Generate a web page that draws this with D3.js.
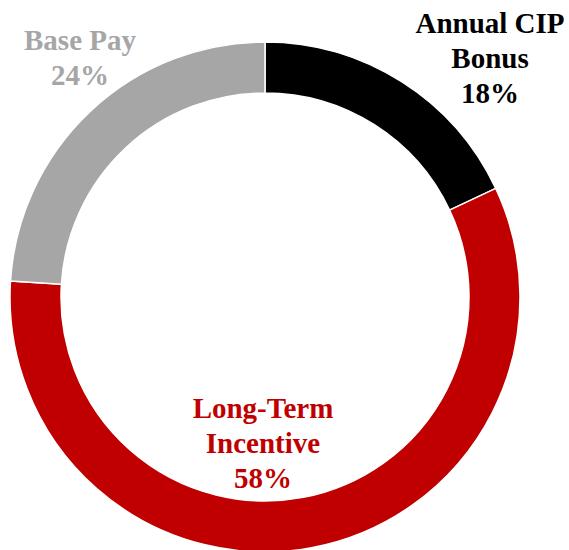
<!DOCTYPE html>
<html>
<head>
<meta charset="utf-8">
<script src="https://cdn.jsdelivr.net/npm/d3@7"></script>
<style>
  html, body { margin: 0; padding: 0; background: #fff; }
  svg { display: block; }
  text { font-family: "Liberation Serif", "Times New Roman", serif; font-weight: bold; }
</style>
</head>
<body>
<svg id="chart"></svg>
<script>
// data
const categories = ["Annual CIP Bonus", "Long-Term Incentive", "Base Pay"];
const values = [18, 58, 24];
const labelLines = [["Annual CIP", "Bonus"], ["Long-Term", "Incentive"], ["Base Pay"]];
const colors = ["#000000", "#c00000", "#a6a6a6"];

const width = 569, height = 550;
const cx = 265, cy = 297;
const outerR = 255, innerR = 204;
const fontSize = 29, lineH = 35;

// label anchors (x, first baseline), picked to sit where the original ones are
const labelAnchor = [[490, 33], [263, 418], [80, 50]];

const svg = d3.select("#chart").attr("width", width).attr("height", height);

const pie = d3.pie().sort(null).value(d => d.value);
const arc = d3.arc().innerRadius(innerR).outerRadius(outerR);

const data = categories.map((c, i) => ({ name: c, value: values[i], color: colors[i], lines: labelLines[i] }));

const g = svg.append("g").attr("transform", `translate(${cx},${cy})`);

g.selectAll("path")
    .data(pie(data))
    .join("path")
    .attr("d", arc)
    .attr("fill", d => d.data.color)
    .attr("stroke", "#fff")
    .attr("stroke-width", 1.5);

const labels = svg.append("g")
    .selectAll("text")
    .data(data)
    .join("text")
    .attr("text-anchor", "middle")
    .attr("font-size", fontSize)
    .attr("fill", d => d.color)
    .attr("transform", (d, i) => `translate(${labelAnchor[i][0]},${labelAnchor[i][1]})`);

labels.each(function(d) {
    const t = d3.select(this);
    const lines = d.lines.concat([d.value + "%"]);
    lines.forEach((l, j) => {
        t.append("tspan").attr("x", 0).attr("y", j * lineH).text(l);
    });
});
</script>
</body>
</html>
